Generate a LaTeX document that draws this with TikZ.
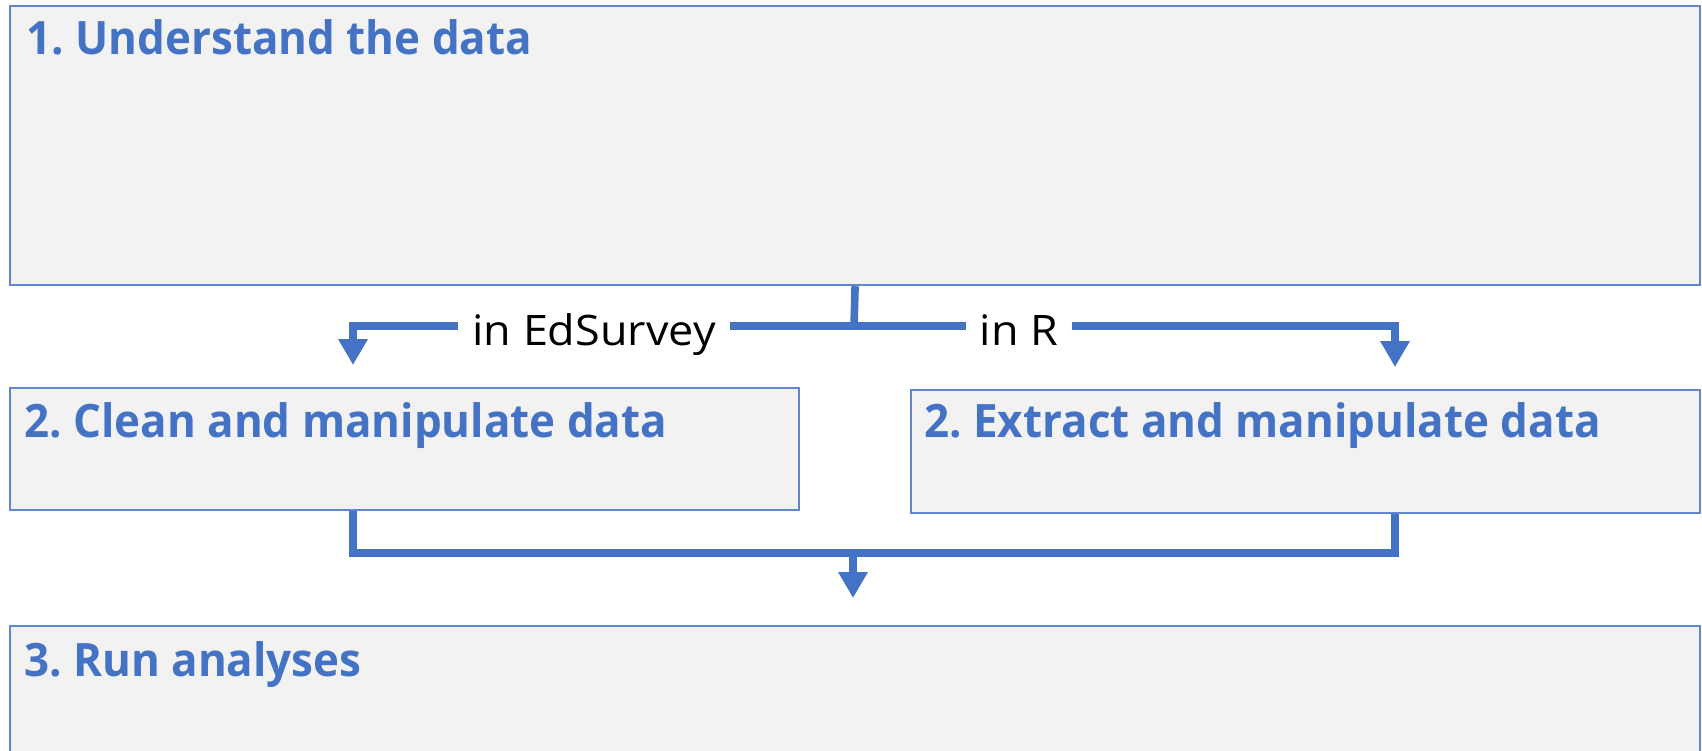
\documentclass[tikz,border=0pt]{standalone}
\usepackage{fontspec}
\setmainfont{Open Sans}
\newfontfamily\titlefont{Open Sans}[FakeStretch=0.955]
\newfontfamily\labfont{Open Sans}[FakeStretch=1.07]
\usetikzlibrary{arrows.meta}
\definecolor{blu}{HTML}{4472C4}
\definecolor{boxfill}{HTML}{F2F2F2}
\frenchspacing
\begin{document}
\begin{tikzpicture}[x=0.5pt,y=-0.5pt,
 box/.style={draw=blu!85, line width=1.1pt, fill=boxfill, rectangle, anchor=north west, inner sep=0},
 title/.style={anchor=base west, text=blu, font=\titlefont\bfseries\fontsize{23}{27}\selectfont, inner sep=0},
 conn/.style={draw=blu, line width=3.8pt},
 arr/.style={conn, -{Triangle[width=14pt,length=13pt]}},
 lab/.style={anchor=base, fill=white, font=\labfont\fontsize{21}{25}\selectfont, inner xsep=7pt, inner ysep=3pt}]
\useasboundingbox (0,0) rectangle (1702,750);
\clip (0,0) rectangle (1702,750);
\fill[white] (0,0) rectangle (1702,750);
% boxes
\node[box, minimum width=845pt, minimum height=139.5pt] (b1) at (9,5) {};
\node[box, minimum width=394.5pt, minimum height=61pt] (b2a) at (9,387) {};
\node[box, minimum width=394.5pt, minimum height=61.5pt] (b2b) at (910,389) {};
\node[box, minimum width=845pt, minimum height=90pt] (b3) at (9,625) {};
% titles
\node[title] (t1) at (26,54) {1. Understand the data};
\node[title] (t2a) at (24,437) {2. Clean and manipulate data};
\node[title] (t2b) at (924,437) {2. Extract and manipulate data};
\node[title] (t3) at (24,676) {3. Run analyses};
% split connector
\coordinate (j1) at (854,326);
\coordinate (aL) at (353,365);
\coordinate (aR) at (1395,367);
\draw[conn] (b1.south) -- (j1);
\draw[arr] (j1) -| (aL);
\draw[arr] (j1) -| (aR);
\node[lab] (lEd) at (594,345) {in EdSurvey};
\node[lab] (lR) at (1019,345) {in R};
% merge connector
\coordinate (mL) at (353,553);
\coordinate (mR) at (1395,553);
\coordinate (m2) at (853,553);
\coordinate (a3) at (853,598);
\draw[conn] (b2a.south -| mL) -- (mL) -- (mR) -- (b2b.south -| mR);
\draw[arr] (m2) -- (a3);
\end{tikzpicture}
\end{document}
